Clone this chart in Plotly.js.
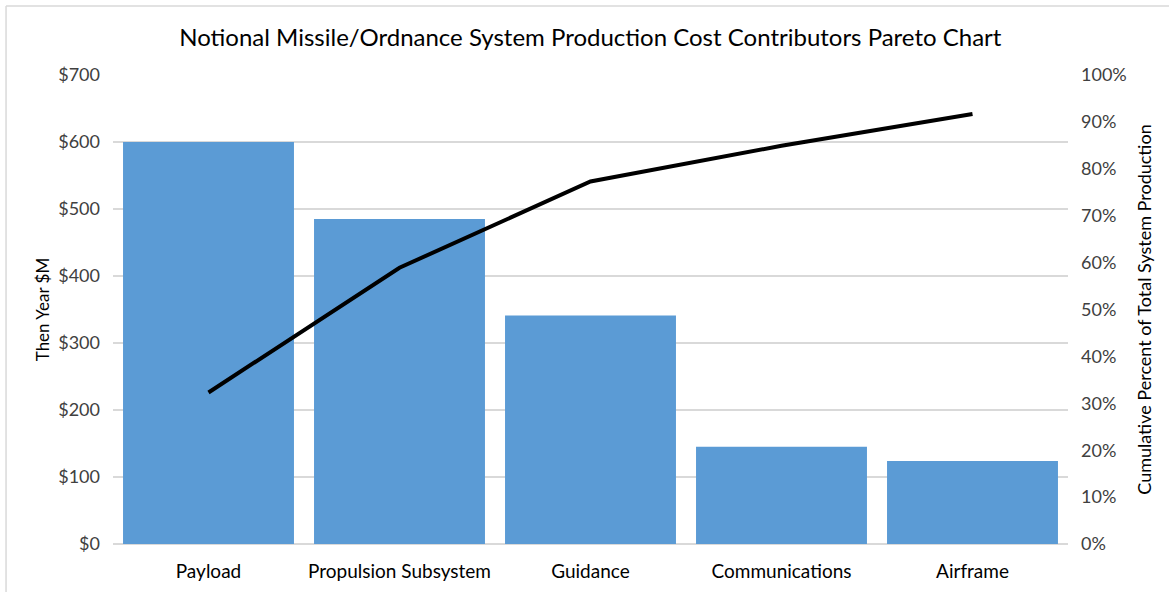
<!DOCTYPE html>
<html>
<head>
<meta charset="utf-8">
<script src="https://cdn.plot.ly/plotly-3.0.1.min.js"></script>
<style>html,body{margin:0;padding:0;background:#fff;}#chart{width:1169px;height:592px;}</style>
</head>
<body>
<div id="chart"></div>
<script>
const categories = ["Payload", "Propulsion Subsystem", "Guidance", "Communications", "Airframe"];
const costValues = [600, 485, 341, 145, 124];
const cumulativePercent = [32.3, 58.9, 77.3, 84.9, 91.7];
const leftTicks = [0, 100, 200, 300, 400, 500, 600, 700];
const rightTicks = [0, 10, 20, 30, 40, 50, 60, 70, 80, 90, 100];
const leftTickText = leftTicks.map(v => "$" + v);
const rightTickText = rightTicks.map(v => v + "%");

const fontFamily = "Lato, 'Open Sans', sans-serif";
const textColor = "#404040";

const data = [
  {
    type: "bar",
    x: categories,
    y: costValues,
    marker: {color: "#5b9bd5", line: {width: 0}},
    yaxis: "y"
  },
  {
    type: "scatter",
    mode: "lines",
    x: categories,
    y: cumulativePercent,
    line: {color: "#000000", width: 4},
    yaxis: "y2"
  }
];

const layout = {
  width: 1169,
  height: 592,
  margin: {l: 113, r: 101, t: 75, b: 48},
  paper_bgcolor: "#ffffff",
  plot_bgcolor: "#ffffff",
  showlegend: false,
  bargap: 0.105,
  font: {family: fontFamily, color: textColor, size: 16},
  title: {
    text: "Notional Missile/Ordnance System Production Cost Contributors Pareto Chart",
    font: {family: fontFamily, size: 24, color: "#000000"},
    x: 0.505, xanchor: "center", y: 0.937, yanchor: "middle"
  },
  xaxis: {
    type: "category",
    showgrid: false,
    showline: false,
    zeroline: false,
    ticks: "",
    ticklabelstandoff: 14,
    tickfont: {family: fontFamily, size: 19, color: "#000000"}
  },
  yaxis: {
    range: [0, 700],
    tickmode: "array",
    tickvals: leftTicks,
    ticktext: leftTickText,
    showgrid: true,
    gridcolor: "#d9d9d9",
    gridwidth: 1.5,
    zeroline: true,
    zerolinecolor: "#d9d9d9",
    zerolinewidth: 1.5,
    ticks: "",
    ticklabelstandoff: 12,
    tickfont: {family: fontFamily, size: 18, color: textColor},
    title: {text: "Then Year $M", font: {family: fontFamily, size: 17, color: "#000000"}, standoff: 4}
  },
  yaxis2: {
    overlaying: "y",
    side: "right",
    range: [0, 100],
    tickmode: "array",
    tickvals: rightTicks,
    ticktext: rightTickText,
    showgrid: false,
    zeroline: false,
    ticks: "",
    ticklabelstandoff: 12,
    tickfont: {family: fontFamily, size: 18, color: textColor},
    title: {text: "Cumulative Percent of Total System Production", font: {family: fontFamily, size: 18, color: "#000000"}, standoff: 12}
  },
  shapes: [
    {type: "line", xref: "paper", yref: "paper", x0: -0.112, x1: 1.2, y0: 1.147, y1: 1.147, line: {color: "#d9d9d9", width: 1.5}},
    {type: "line", xref: "paper", yref: "paper", x0: -0.112, x1: -0.112, y0: 1.147, y1: -0.12, line: {color: "#d9d9d9", width: 1.5}}
  ]
};

Plotly.newPlot("chart", data, layout, {displayModeBar: false, staticPlot: true});
</script>
</body>
</html>
